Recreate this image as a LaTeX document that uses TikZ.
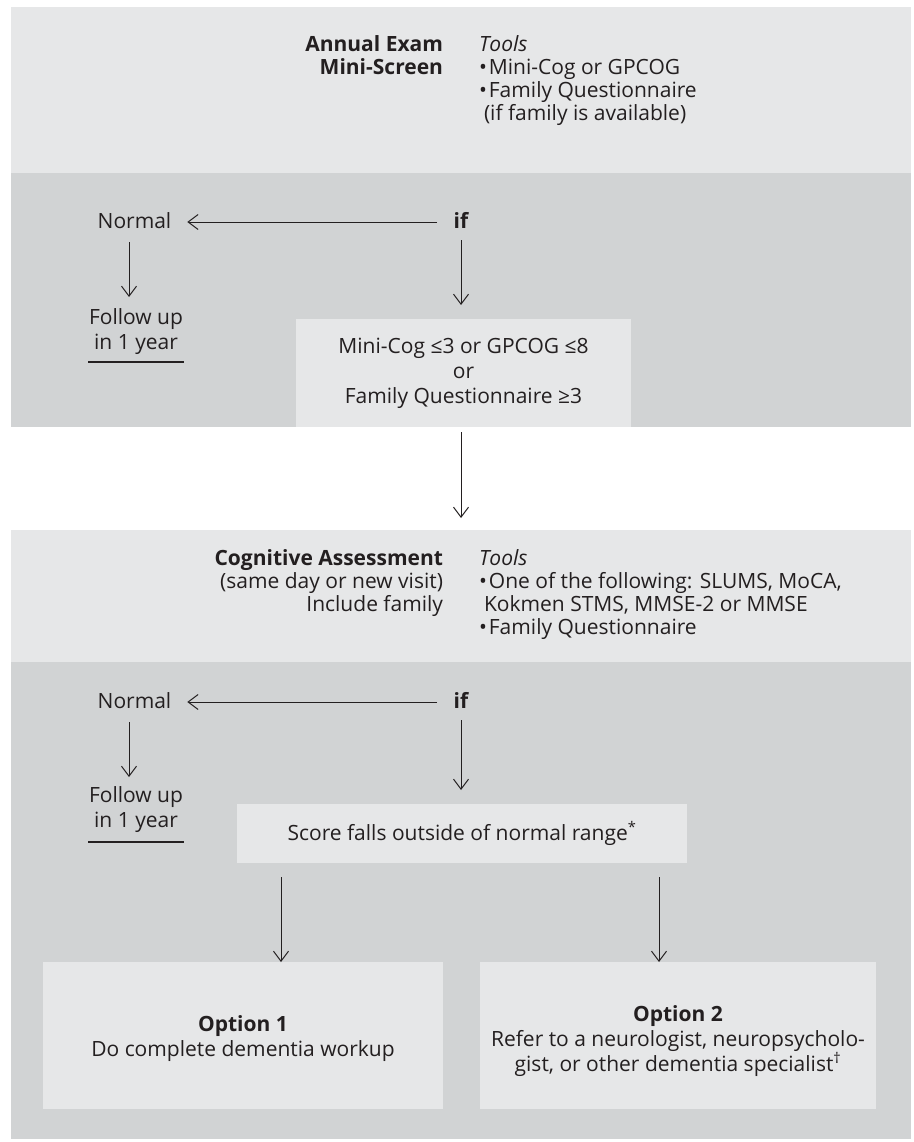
\documentclass[tikz,border=0pt]{standalone}
\usepackage{fontspec}
\setmainfont{Open Sans}
\usetikzlibrary{arrows.meta}
\definecolor{panellight}{HTML}{E6E7E8}
\definecolor{paneldark}{HTML}{D1D3D4}
\definecolor{ink}{HTML}{231F20}
\begin{document}
\begin{tikzpicture}[x=1pt,y=-1pt,
  every node/.style={inner sep=0pt,outer sep=0pt,text=ink,font=\fontsize{21}{25}\selectfont},
  bftext/.style={font=\fontsize{21}{25}\selectfont\bfseries},
  ittext/.style={font=\fontsize{21}{25}\selectfont\itshape},
  panelL/.style={fill=panellight,minimum width=900pt,anchor=north west},
  panelD/.style={fill=paneldark,minimum width=900pt,anchor=north west},
  box/.style={fill=panellight,align=center},
  lbl/.style={anchor=base,text height=15pt,text depth=3pt},
  arr/.style={draw=ink,line width=1pt,-{Straight Barb[length=10pt,width=15pt]}},
  uline/.style={draw=ink,line width=2.4pt}]
\useasboundingbox[fill=white] (0,0) rectangle (913,1142);

% panels
\node[panelL,minimum height=166pt] (p1) at (11,7) {};
\node[panelD,minimum height=254pt] (p2) at (11,173) {};
\node[panelL,minimum height=132pt] (p3) at (11,530) {};
\node[panelD,minimum height=477pt] (p4) at (11,662) {};

% top panel text
\node[anchor=base east,bftext] (ae1) at (443,52) {Annual Exam};
\node[anchor=base east,bftext] (ae2) at (443,75) {Mini-Screen};
\node[anchor=base west,ittext] (t1) at (479,52) {Tools};
\node[anchor=base west] (t1a) at (479,75) {•\hspace{2pt}Mini-Cog or GPCOG};
\node[anchor=base west] (t1b) at (479,98) {•\hspace{2pt}Family Questionnaire};
\node[anchor=base west] (t1c) at (484,121) {(if family is available)};

% section 1 flow
\node[lbl] (n1) at (134.5,228) {Normal};
\node[lbl,bftext] (if1) at (461,228) {if};
\node[anchor=north,align=center] (fu1) at (136,309) {Follow up\\in 1 year};
\node[box,minimum width=335pt,minimum height=108pt] (b1) at (463.5,373)
  {Mini-Cog ≤3 or GPCOG ≤8\\or\\Family Questionnaire ≥3};

\draw[arr,shorten <=16.5pt,shorten >=16pt] (if1.west) -- (n1.east);
\draw[arr,shorten <=11pt,shorten >=12pt] ([xshift=-5.5pt]n1.south) -- ([xshift=-5.5pt]n1.south |- fu1.north);
\draw[uline] ([xshift=-1pt,yshift=-7pt]fu1.south west) -- ([xshift=1pt,yshift=-7pt]fu1.south east);
\draw[arr,shorten <=9pt,shorten >=14pt] (if1.south) -- (if1.south |- b1.north);

% connector between sections
\draw[arr,shorten <=5pt,shorten >=12pt] (if1 |- b1.south) -- (if1 |- p3.north);

% cognitive assessment panel text
\node[anchor=base east,bftext] (ca1) at (443,565) {Cognitive Assessment};
\node[anchor=base east] (ca2) at (443,588) {(same day or new visit)};
\node[anchor=base east] (ca3) at (443,611) {Include family};
\node[anchor=base west,ittext] (t2) at (479,565) {Tools};
\node[anchor=base west] (t2a) at (479,588) {•\hspace{2pt}One of the following: SLUMS, MoCA,};
\node[anchor=base west] (t2b) at (484,611) {Kokmen STMS, MMSE-2 or MMSE};
\node[anchor=base west] (t2c) at (479,634) {•\hspace{2pt}Family Questionnaire};

% section 2 flow
\node[lbl] (n2) at (134.5,708) {Normal};
\node[lbl,bftext] (if2) at (461,708) {if};
\node[anchor=north,align=center] (fu2) at (136,787) {Follow up\\in 1 year};
\node[box,minimum width=450pt,minimum height=59pt] (sc) at (462,833.5)
  {Score falls outside of normal range\textsuperscript{*}};
\node[box,minimum width=400pt,minimum height=147pt] (o1) at (243,1035.5) {};
\node[align=center] (o1t) at (243,1039) {\textbf{Option 1}\\Do complete dementia workup};
\node[box,minimum width=396pt,minimum height=147pt] (o2) at (678,1035.5) {};
\node[align=center] (o2t) at (678,1041) {\textbf{Option 2}\\Refer to a neurologist, neuropsycholo-\\gist, or other dementia specialist\textsuperscript{†}};

\draw[arr,shorten <=16.5pt,shorten >=16pt] (if2.west) -- (n2.east);
\draw[arr,shorten <=11pt,shorten >=10pt] ([xshift=-5.5pt]n2.south) -- ([xshift=-5.5pt]n2.south |- fu2.north);
\draw[uline] ([xshift=-1pt,yshift=-9pt]fu2.south west) -- ([xshift=1pt,yshift=-9pt]fu2.south east);
\draw[arr,shorten <=9pt,shorten >=14pt] (if2.south) -- (if2.south |- sc.north);
\draw[arr,shorten <=14pt] ([xshift=44pt]sc.south west) -- ([xshift=44pt]sc.south west |- o1.north);
\draw[arr,shorten <=14pt] ([xshift=-28pt]sc.south east) -- ([xshift=-28pt]sc.south east |- o2.north);
\end{tikzpicture}
\end{document}
